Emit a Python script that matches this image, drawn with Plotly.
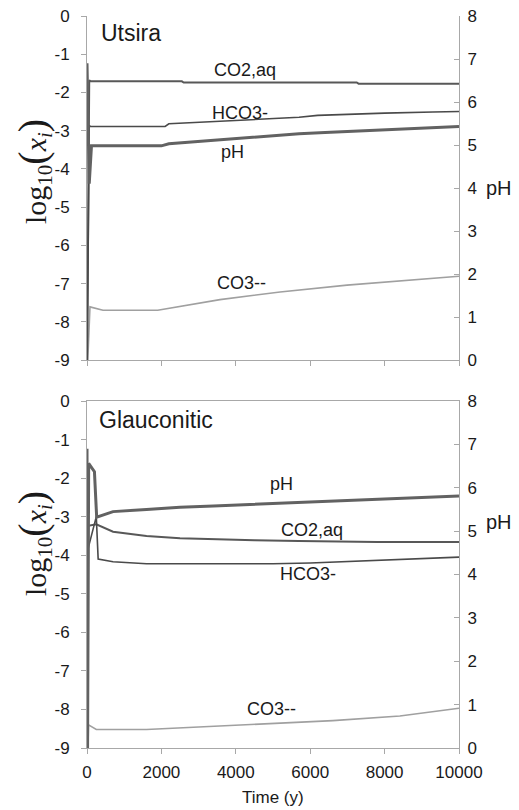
import plotly.graph_objects as go

# ---------------- data ----------------
# Utsira (top panel)
u_co2_t = [0, 60, 100, 2550, 2600, 7250, 7300, 10000]
u_co2 = [-9.5, -1.68, -1.71, -1.71, -1.74, -1.74, -1.77, -1.77]

u_hco3_t = [0, 60, 100, 2100, 2200, 3500, 5700, 6200, 7000, 8000, 9300, 10000]
u_hco3 = [-9.5, -2.87, -2.89, -2.89, -2.82, -2.76, -2.65, -2.60, -2.57, -2.54, -2.51, -2.50]

u_ph_t = [0, 60, 120, 2000, 2200, 3500, 4600, 5700, 6400, 7100, 7900, 8700, 9600, 10000]
u_ph = [6.9, 4.1, 4.98, 4.98, 5.03, 5.12, 5.18, 5.26, 5.29, 5.32, 5.35, 5.38, 5.42, 5.43]

u_co3_t = [0, 80, 430, 1900, 3575, 5190, 6990, 8760, 10000]
u_co3 = [-9.5, -7.61, -7.70, -7.70, -7.42, -7.22, -7.04, -6.91, -6.81]

# Glauconitic (bottom panel)
g_ph_t = [0, 15, 45, 200, 260, 700, 1600, 2500, 3400, 4500, 5700, 6800, 7800, 8800, 10000]
g_ph = [6.9, 0.0, 6.56, 6.37, 5.32, 5.45, 5.50, 5.55, 5.58, 5.62, 5.66, 5.70, 5.73, 5.76, 5.81]

g_co2_t = [0, 250, 700, 1600, 2500, 3400, 4500, 5700, 6800, 7800, 10000]
g_co2 = [-3.24, -3.20, -3.39, -3.50, -3.56, -3.59, -3.61, -3.63, -3.65, -3.66, -3.66]

g_hco3_t = [0, 250, 300, 700, 1600, 5000, 6000, 7500, 8500, 10000]
g_hco3 = [-3.94, -3.00, -4.10, -4.17, -4.22, -4.22, -4.20, -4.15, -4.10, -4.05]

g_co3_t = [0, 15, 40, 250, 1600, 3030, 4820, 6610, 8410, 10000]
g_co3 = [-6.2, -9.5, -8.40, -8.52, -8.52, -8.45, -8.38, -8.29, -8.17, -7.97]

x_ticks = [0, 2000, 4000, 6000, 8000, 10000]
x_ticktext = ["0", "2000", "4000", "6000", "8000", "10000"]
left_ticks = list(range(-9, 1))
left_ticktext = [str(v) for v in left_ticks]          # plain hyphen minus
right_ticks = list(range(0, 9))
right_ticktext = [str(v) for v in right_ticks]

# ---------------- styles ----------------
# the page body has an 8px margin; the visible area is x 8..511, y 8..810
M = 8
W, H = 519 - 2 * M, 810 - M
C_CO2 = "#585858"
C_HCO3 = "#4a4a4a"
C_PH = "#626262"
C_CO3 = "#a0a0a0"
AX = "#a8a8a8"
TXT = "#1a1a1a"
SANS = "Liberation Sans, Arial, sans-serif"
SERIF = "Liberation Serif, Times New Roman, serif"

def px_x(p):          # window pixel -> paper fraction
    return (p - M) / W

def px_y(p):
    return 1 - (p - M) / H

fig = go.Figure()

def line(t, v, color, width, xa, ya):
    fig.add_trace(go.Scatter(x=t, y=v, mode="lines", xaxis=xa, yaxis=ya,
                             line=dict(color=color, width=width),
                             showlegend=False, hoverinfo="skip"))

# top panel
line(u_co3_t, u_co3, C_CO3, 1.6, "x", "y")
line(u_co2_t, u_co2, C_CO2, 2.0, "x", "y")
line(u_hco3_t, u_hco3, C_HCO3, 1.6, "x", "y")
line(u_ph_t, u_ph, C_PH, 3.0, "x", "y2")
# bottom panel
line(g_co3_t, g_co3, C_CO3, 1.6, "x2", "y3")
line(g_co2_t, g_co2, C_CO2, 2.0, "x2", "y3")
line(g_hco3_t, g_hco3, C_HCO3, 1.6, "x2", "y3")
line(g_ph_t, g_ph, C_PH, 3.0, "x2", "y4")

xdom = [px_x(87), px_x(459)]
top_dom = [px_y(360), px_y(16)]
bot_dom = [px_y(748), px_y(401)]

tickfont = dict(family=SANS, size=17, color=TXT)
common = dict(automargin=False, ticklabeloverflow="allow", showgrid=False,
              zeroline=False, tickfont=tickfont, tickcolor=AX, ticklen=5,
              showline=True, linecolor=AX, linewidth=1)

def xaxis(anchor, labels, mirror):
    return dict(domain=xdom, anchor=anchor, range=[0, 10000], tickvals=x_ticks,
                ticktext=x_ticktext, showticklabels=labels, ticks="outside",
                mirror=mirror, ticklabelstandoff=4, **common)

def yleft(dom, anchor):
    return dict(domain=dom, anchor=anchor, range=[-9, 0], tickvals=left_ticks,
                ticktext=left_ticktext, ticks="outside", ticklabelstandoff=8,
                **common)

def yright(overlay, anchor):
    return dict(overlaying=overlay, anchor=anchor, side="right", range=[0, 8],
                tickvals=right_ticks, ticktext=right_ticktext, ticks="inside",
                ticklabelstandoff=4, **common)

fig.update_layout(
    width=W, height=H, margin=dict(l=0, r=0, t=0, b=0, autoexpand=False),
    paper_bgcolor="white", plot_bgcolor="white",
    xaxis=xaxis("y", False, False),
    yaxis=yleft(top_dom, "x"),
    yaxis2=yright("y", "x"),
    xaxis2=xaxis("y3", True, True),
    yaxis3=yleft(bot_dom, "x2"),
    yaxis4=yright("y3", "x2"),
)

ann = []
def label(text, x, y, xref, yref, size=18, family=SANS, angle=0, xanchor="center"):
    ann.append(dict(text=text, x=x, y=y, xref=xref, yref=yref, showarrow=False,
                    font=dict(family=family, size=size, color=TXT),
                    textangle=angle, xanchor=xanchor, yanchor="middle"))

# panel titles
label("Utsira", px_x(99), px_y(33), "paper", "paper", size=23, xanchor="left")
label("Glauconitic", px_x(97), px_y(420), "paper", "paper", size=23, xanchor="left")
# series labels top
label("CO2,aq", 4250, -1.42, "x", "y")
label("HCO3-", 4110, -2.53, "x", "y")
label("pH", 3920, -3.57, "x", "y")
label("CO3--", 4140, -6.99, "x", "y")
# series labels bottom
label("pH", 5240, -2.15, "x2", "y3")
label("CO2,aq", 6050, -3.34, "x2", "y3")
label("HCO3-", 5940, -4.49, "x2", "y3")
label("CO3--", 4970, -7.99, "x2", "y3")
# right axis titles
label("pH", px_x(499), px_y(188), "paper", "paper", size=20)
label("pH", px_x(499), px_y(522), "paper", "paper", size=20)
# left axis titles
ytitle = ("log<sub>10</sub><span style='font-size:40px'>(</span><i>x</i>"
          "<sub><i>i</i></sub><span style='font-size:40px'>)</span>")
label(ytitle, px_x(33), px_y(172), "paper", "paper", size=30, family=SERIF, angle=-90)
label(ytitle, px_x(33), px_y(544), "paper", "paper", size=30, family=SERIF, angle=-90)
# x axis title
label("Time (y)", px_x(273), px_y(797), "paper", "paper", size=17)

fig.update_layout(annotations=ann)
fig.write_html("out.html")
